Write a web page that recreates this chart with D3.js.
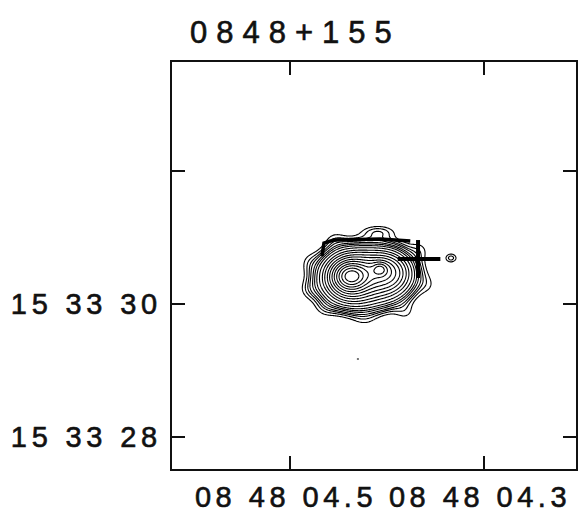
<!DOCTYPE html>
<html lang="en">
<head>
  <meta charset="utf-8">
  <title>0848+155</title>
  <script src="https://d3js.org/d3.v7.min.js"></script>
  <style>
    body { margin: 0; background: #fff; }
    text { font-family: "Liberation Sans", Arial, Helvetica, sans-serif; fill: #111; stroke: #111; stroke-width: 0.6; }
  </style>
</head>
<body>
  <svg width="579" height="514" id="mainsvg"></svg>
  <script>
    const title = '0848+155';

    // RA in seconds of 08h48m, Dec in arcsec of +15d33'
    const raLimits = [4.6227, 4.2041];
    const decLimits = [27.504, 33.654];
    const raTicks = [4.5, 4.3];
    const raTickLabels = ['08 48 04.5', '08 48 04.3'];
    const decTicks = [28, 30, 32];
    const decTickLabels = ['15 33 28', '15 33 30', ''];

    // source model: components (widths in arcsec, p = profile exponent)
    const compRa  = [4.4227, 4.4381, 4.4371, 4.4010, 4.4072, 4.4093, 4.4536, 4.4804, 4.4794, 4.4639, 4.4227, 4.3814, 4.3577, 4.3660, 4.3340];
    const compDec = [30.391, 30.406, 30.421, 30.481, 30.526, 31.080, 30.962, 30.632, 30.211, 29.940, 29.760, 29.880, 30.286, 30.812, 30.692];
    const compAmp = [0.14,   0.42,   0.22,   0.30,   0.15,   0.035,  0.018,  0.015,  0.02,   0.018,  0.015,  0.02,   0.015,  0.018,  0.035];
    const compSx  = [0.585,  0.239,  0.149,  0.239,  0.075,  0.179,  0.120,  0.110,  0.120,  0.130,  0.150,  0.120,  0.110,  0.110,  0.070];
    const compSy  = [0.405,  0.224,  0.119,  0.209,  0.067,  0.075,  0.110,  0.120,  0.110,  0.110,  0.100,  0.110,  0.120,  0.110,  0.055];
    const compP   = [4,      2,      2,      2,      2,      2,      2,      2,      2,      2,      2,      2,      2,      2,      2];
    const levels = [0.02, 0.03, 0.04, 0.05, 0.065, 0.08, 0.1, 0.13, 0.17, 0.21, 0.26, 0.31, 0.37, 0.43, 0.5, 0.57, 0.65, 0.73, 0.81];

    // optical position cross and the heavy ridge line
    const crossRa = [4.389, 4.345];
    const crossDec = [30.962, 30.391];
    const crossCentre = [4.368, 30.677];
    const ridgeRa = [4.467, 4.465, 4.455, 4.407, 4.376];
    const ridgeDec = [30.722, 30.917, 30.962, 30.977, 30.947];
    const dotRa = [4.430];
    const dotDec = [29.173];

    const svg = d3.select('#mainsvg');
    const frame = { left: 171, right: 577, top: 61, bottom: 470 };

    const x = d3.scaleLinear().domain(raLimits).range([frame.left, frame.right]);
    const y = d3.scaleLinear().domain(decLimits).range([frame.bottom, frame.top]);

    const raArc = 15 * Math.cos(15.56 * Math.PI / 180); // arcsec per second of RA

    // model grid
    const ra0 = 4.52, dRa = 1 / 970, nx = 240;
    const dec0 = 31.75, dDec = 1 / 66.5, ny = 190;
    const values = new Float64Array(nx * ny);
    for (let j = 0; j < ny; j++) {
      for (let i = 0; i < nx; i++) {
        const ra = ra0 - i * dRa, dec = dec0 - j * dDec;
        let v = 0;
        for (let k = 0; k < compRa.length; k++) {
          const dx = (ra - compRa[k]) * raArc / compSx[k];
          const dy = (dec - compDec[k]) / compSy[k];
          const q = dx * dx + dy * dy;
          v += compAmp[k] * Math.exp(-0.5 * Math.pow(q, compP[k] / 2));
        }
        values[j * nx + i] = v;
      }
    }

    const contours = d3.contours().size([nx, ny]).thresholds(levels)(values);
    const proj = d3.geoTransform({
      point: function (gx, gy) {
        this.stream.point(x(ra0 - (gx - 0.5) * dRa), y(dec0 - (gy - 0.5) * dDec));
      }
    });
    const path = d3.geoPath(proj);

    const g = svg.append('g').attr('id', 'maingroup');

    g.append('defs').append('clipPath').attr('id', 'clip')
      .append('rect')
      .attr('x', frame.left).attr('y', frame.top)
      .attr('width', frame.right - frame.left).attr('height', frame.bottom - frame.top);

    const plot = g.append('g').attr('clip-path', 'url(#clip)');

    plot.selectAll('.contour')
      .data(contours)
      .enter().append('path')
      .attr('class', 'contour')
      .attr('d', path)
      .attr('fill', 'none')
      .attr('stroke', '#000')
      .attr('stroke-width', 1.1);

    // heavy ridge
    plot.append('path')
      .datum(d3.zip(ridgeRa, ridgeDec))
      .attr('d', d3.line().x(d => x(d[0])).y(d => y(d[1])))
      .attr('fill', 'none')
      .attr('stroke', '#000')
      .attr('stroke-width', 3.5);

    // cross
    plot.append('line')
      .attr('x1', x(crossRa[0])).attr('x2', x(crossRa[1]))
      .attr('y1', y(crossCentre[1])).attr('y2', y(crossCentre[1]))
      .attr('stroke', '#000').attr('stroke-width', 4);
    plot.append('line')
      .attr('x1', x(crossCentre[0])).attr('x2', x(crossCentre[0]))
      .attr('y1', y(crossDec[0])).attr('y2', y(crossDec[1]))
      .attr('stroke', '#000').attr('stroke-width', 4);

    plot.selectAll('.dot')
      .data(d3.zip(dotRa, dotDec))
      .enter().append('rect')
      .attr('class', 'dot')
      .attr('x', d => x(d[0]) - 1).attr('y', d => y(d[1]) - 1)
      .attr('width', 2).attr('height', 2)
      .attr('fill', '#777');

    // frame
    g.append('rect')
      .attr('x', frame.left).attr('y', frame.top)
      .attr('width', frame.right - frame.left).attr('height', frame.bottom - frame.top)
      .attr('fill', 'none')
      .attr('stroke', '#111')
      .attr('stroke-width', 2);

    // ticks, drawn inward on all four sides
    const tickLen = 14;
    raTicks.forEach(t => {
      g.append('line').attr('x1', x(t)).attr('x2', x(t))
        .attr('y1', frame.top).attr('y2', frame.top + tickLen)
        .attr('stroke', '#111').attr('stroke-width', 2);
      g.append('line').attr('x1', x(t)).attr('x2', x(t))
        .attr('y1', frame.bottom).attr('y2', frame.bottom - tickLen)
        .attr('stroke', '#111').attr('stroke-width', 2);
    });
    decTicks.forEach(t => {
      g.append('line').attr('x1', frame.left).attr('x2', frame.left + tickLen)
        .attr('y1', y(t)).attr('y2', y(t))
        .attr('stroke', '#111').attr('stroke-width', 2);
      g.append('line').attr('x1', frame.right).attr('x2', frame.right - tickLen)
        .attr('y1', y(t)).attr('y2', y(t))
        .attr('stroke', '#111').attr('stroke-width', 2);
    });

    g.selectAll('.xlabel')
      .data(raTicks)
      .enter().append('text')
      .attr('class', 'xlabel')
      .attr('x', d => x(d) - 4)
      .attr('y', 507)
      .attr('text-anchor', 'middle')
      .attr('font-size', 29)
      .attr('letter-spacing', 4.5)
      .text((d, i) => raTickLabels[i]);

    g.selectAll('.ylabel')
      .data(decTicks)
      .enter().append('text')
      .attr('class', 'ylabel')
      .attr('x', 162)
      .attr('y', d => y(d) + 10)
      .attr('text-anchor', 'end')
      .attr('font-size', 29)
      .attr('letter-spacing', 4.8)
      .text((d, i) => decTickLabels[i]);

    g.append('text')
      .attr('x', 190)
      .attr('y', 43)
      .attr('font-size', 31)
      .attr('letter-spacing', 9)
      .text(title);
  </script>
</body>
</html>
